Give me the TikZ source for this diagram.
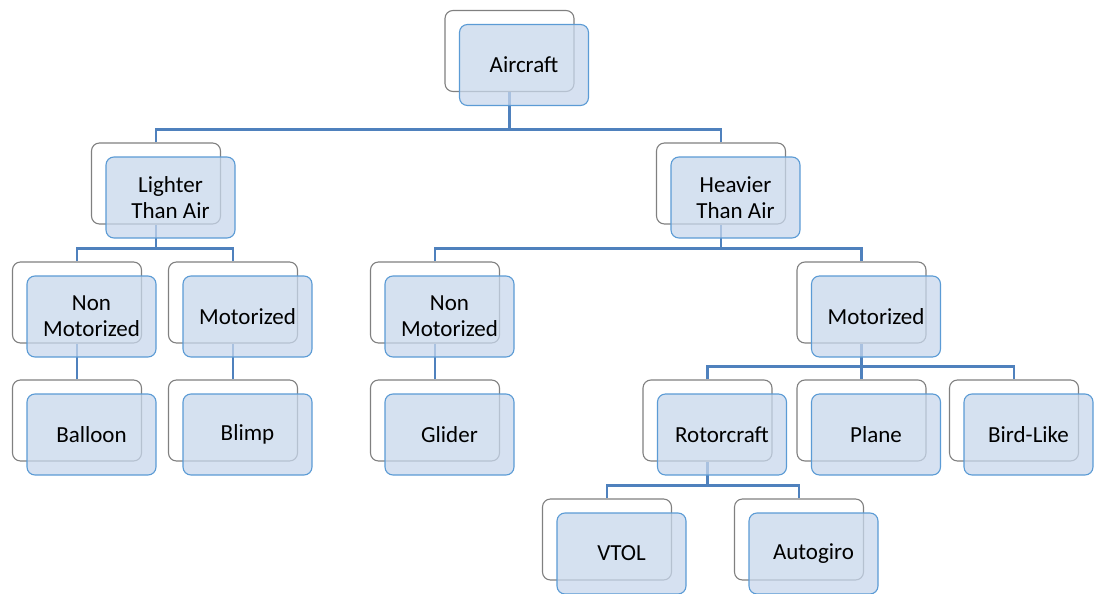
\documentclass[tikz,border=0pt]{standalone}
\usepackage{fontspec}
\setmainfont{Carlito}
\definecolor{backline}{RGB}{128,128,128}
\definecolor{frontline}{RGB}{91,155,213}
\definecolor{frontfill}{RGB}{200,215,236}
\definecolor{connline}{RGB}{79,129,189}
\tikzset{
  backbox/.style={draw=backline, line width=1.1pt, fill=white, rounded corners=8pt,
    minimum width=129pt, minimum height=81pt, inner sep=0pt},
  frontbox/.style={draw=frontline, line width=1.1pt, fill=frontfill, fill opacity=0.75,
    text opacity=1, draw opacity=1, rounded corners=8pt,
    minimum width=129pt, minimum height=81pt, inner sep=0pt, align=center,
    font=\fontsize{23pt}{26pt}\selectfont, text=black},
  conn/.style={draw=connline, line width=2.6pt}
}
\newcommand{\backent}[3]{\node[backbox] (#1-b) at (#2,#3) {};}
\newcommand{\frontent}[4]{\node[frontbox] (#1) at (#2+14.5,#3+14) {#4};}
\begin{document}
\begin{tikzpicture}[x=1pt,y=-1pt]
\useasboundingbox (0,0) rectangle (1098,594);
% back boxes
\backent{air}{509.5}{51}
\backent{lta}{156}{183.5}
\backent{hta}{721}{183.5}
\backent{nm1}{77}{302.5}
\backent{mo1}{233}{302.5}
\backent{nm2}{435}{302.5}
\backent{mo2}{861.5}{302.5}
\backent{bal}{77}{420.5}
\backent{bli}{233}{420.5}
\backent{gli}{435}{420.5}
\backent{rot}{707.5}{420.5}
\backent{pla}{861.5}{420.5}
\backent{bir}{1014}{420.5}
\backent{vto}{607}{539.5}
\backent{aut}{799}{539.5}
% connectors
\foreach \c/\p in {lta/air,hta/air,nm1/lta,mo1/lta,nm2/hta,mo2/hta,bal/nm1,bli/mo1,gli/nm2,rot/mo2,pla/mo2,bir/mo2,vto/rot,aut/rot}
  \draw[conn] (\c-b.north) -- ++(0,-13) -| (\p-b.south);
% front boxes
\frontent{air}{509.5}{51}{Aircraft}
\frontent{lta}{156}{183.5}{Lighter\\Than Air}
\frontent{hta}{721}{183.5}{Heavier\\Than Air}
\frontent{nm1}{77}{302.5}{Non\\Motorized}
\frontent{mo1}{233}{302.5}{Motorized}
\frontent{nm2}{435}{302.5}{Non\\Motorized}
\frontent{mo2}{861.5}{302.5}{Motorized}
\frontent{bal}{77}{420.5}{Balloon}
\frontent{bli}{233}{420.5}{Blimp}
\frontent{gli}{435}{420.5}{Glider}
\frontent{rot}{707.5}{420.5}{Rotorcraft}
\frontent{pla}{861.5}{420.5}{Plane}
\frontent{bir}{1014}{420.5}{Bird-Like}
\frontent{vto}{607}{539.5}{VTOL}
\frontent{aut}{799}{539.5}{Autogiro}
\end{tikzpicture}
\end{document}
